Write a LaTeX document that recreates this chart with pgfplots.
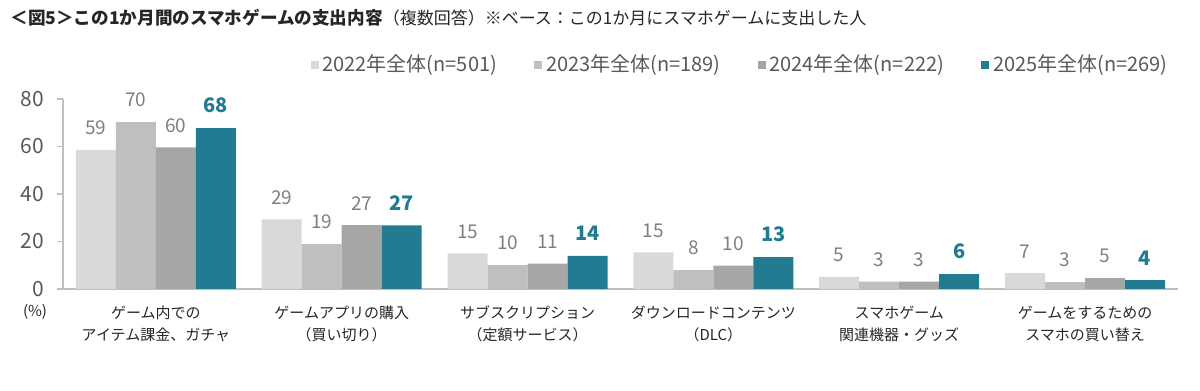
\documentclass[border=0pt]{standalone}
\usepackage{fontspec}
\setmainfont{Noto Sans CJK JP}
\usepackage{pgfplots}
\pgfplotsset{compat=1.18}
\definecolor{c22}{HTML}{D9D9D9}
\definecolor{c23}{HTML}{BFBFBF}
\definecolor{c24}{HTML}{A6A6A6}
\definecolor{c25}{HTML}{217C92}
\definecolor{lab}{HTML}{7F7F7F}
\definecolor{tickc}{HTML}{595959}
\definecolor{ttl}{HTML}{262626}
\begin{document}
\begin{tikzpicture}
\path[use as bounding box] (0,0) rectangle (600pt,195.5pt);
\node[anchor=west, inner sep=0pt, text=ttl] at (5pt,186.5pt)
  {\fontsize{8.8}{10}\selectfont\bfseries ＜図5＞この1か月間のスマホゲームの支出内容%
   \mdseries\fontsize{8.5}{9}\selectfont （複数回答）※ベース：この1か月にスマホゲームに支出した人};
\node[inner sep=0pt, text=ttl] at (17.5pt,39.5pt) {\fontsize{7.5}{9}\selectfont (\%)};
\begin{axis}[
  at={(31.5pt,51pt)}, anchor=south west,
  scale only axis, width=557.5pt, height=95pt,
  xmin=-0.5, xmax=5.5, ymin=0, ymax=80,
  ybar=0pt, bar width=20pt,
  /pgf/number format/assume math mode=true,
  axis x line*=bottom, axis y line*=left,
  axis line style={draw=c23, line width=0.6pt},
  ytick={0,20,40,60,80}, xtick={0,1,2,3,4,5},
  x tick style={draw=none},
  y tick style={draw=c23, line width=0.6pt},
  tick align=outside, major tick length=3pt,
  xticklabels={{ゲーム内での\\アイテム課金、ガチャ},{ゲームアプリの購入\\（買い切り）},{サブスクリプション\\（定額サービス）},{ダウンロードコンテンツ\\（DLC）},{スマホゲーム\\関連機器・グッズ},{ゲームをするための\\スマホの買い替え}},
  xticklabel style={align=center, font=\fontsize{7.5}{11}\selectfont, text=ttl, yshift=-2pt},
  yticklabel style={font=\fontsize{10.5}{12}\selectfont, text=tickc, xshift=-3pt},
  nodes near coords,
  nodes near coords style={/pgf/number format/fixed, /pgf/number format/precision=0},
  every node near coord/.append style={yshift=4pt},
  legend style={at={(1.0,1.179)}, anchor=east, draw=none, fill=none,
    font=\fontsize{10}{12}\selectfont, text=tickc, legend columns=-1,
    /tikz/every even column/.append style={column sep=16.5pt}},
  legend image code/.code={\fill[#1] (0pt,-2pt) rectangle (4pt,2pt);},
  clip=false,
]
\addplot[fill=c22, draw=none, nodes near coords style={font=\fontsize{9.5}{10}\selectfont, text=lab}] coordinates {(0,58.6) (1,29.3) (2,15.0) (3,15.4) (4,5.1) (5,6.7)};
\addplot[fill=c23, draw=none, nodes near coords style={font=\fontsize{9.5}{10}\selectfont, text=lab}] coordinates {(0,70.3) (1,18.9) (2,10.0) (3,7.9) (4,3.1) (5,2.9)};
\addplot[fill=c24, draw=none, nodes near coords style={font=\fontsize{9.5}{10}\selectfont, text=lab}] coordinates {(0,59.6) (1,26.9) (2,10.7) (3,9.8) (4,3.1) (5,4.6)};
\addplot[fill=c25, draw=none, nodes near coords style={font=\fontsize{10}{10}\selectfont\bfseries, text=c25}] coordinates {(0,67.7) (1,26.8) (2,13.9) (3,13.4) (4,6.3) (5,3.7)};
\addlegendentry{2022年全体(n=501)}
\addlegendentry{2023年全体(n=189)}
\addlegendentry{2024年全体(n=222)}
\addlegendentry{2025年全体(n=269)}
\end{axis}
\end{tikzpicture}
\end{document}
